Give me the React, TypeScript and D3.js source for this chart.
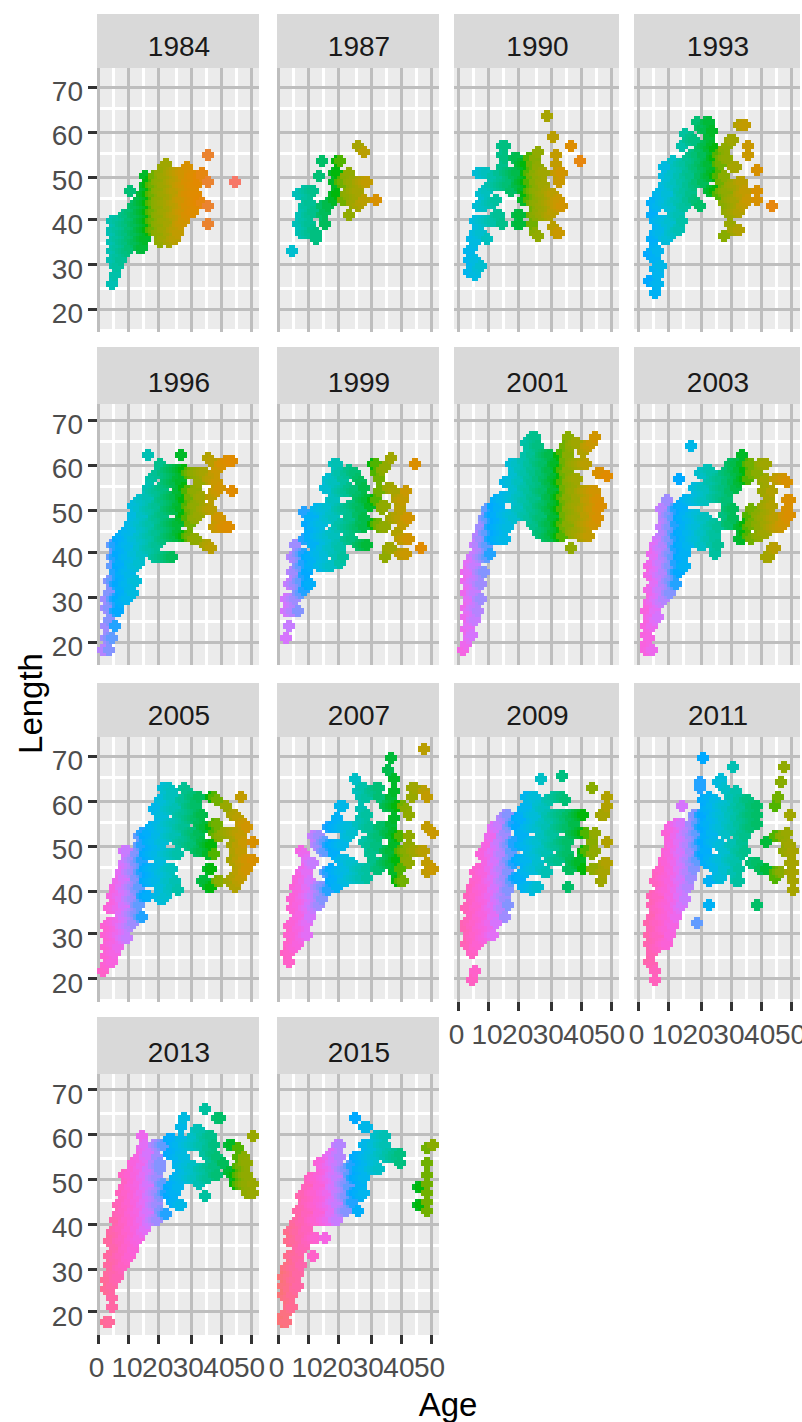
import React from "react";
import * as d3 from "d3";

// Each entry: [age, [lengths observed at that age]]
type Col = [number, number[]];
const p1984: Col[] = [[4,[26,31,33,35,37,38,40]],[5,[28,30,32,34,36,38,40]],[6,[30,32,34,36,38,40]],[7,[31,33,35,37,39]],[8,[33,35,37,39,41]],[9,[33,35,37,39,41]],[10,[34,36,38,40,42,47]],[11,[35,37,39,41,43]],[12,[35,37,39,41,43]],[13,[34,36,38,40,42,44,45]],[14,[34,36,38,40,42,44,46]],[15,[36,38,40,42,44,46,48,50]],[16,[38,40,42,44,46,48,49]],[17,[38,40,42,44,46,48]],[18,[38,40,42,44,46,48,50]],[19,[37,39,41,43,45,47,49]],[20,[35,37,39,41,43,45,47,49,51]],[21,[36,38,40,42,44,46,48,50,52]],[22,[36,38,40,42,44,46,48,50,53]],[23,[35,37,39,41,43,45,47,49,51]],[24,[36,38,41,44,47,49,51]],[25,[36,38,41,44,47,49,51]],[26,[37,39,42,45,48,51]],[27,[39,42,45,48,51]],[28,[40,42,44,46,48,50,51]],[29,[41,43,46,49,52]],[30,[42,44,46,48,50]],[31,[42,44,46,48,50]],[32,[44,46,48]],[33,[44,45,49,50]],[34,[44,50,51]],[36,[39,43,49,55]],[45,[49]]];
const p1987: Col[] = [[4,[33]],[6,[39,46]],[7,[37,39,41,46]],[8,[37,40,43,47]],[9,[37,39,41,43,45,47]],[10,[37,39,41,44,47]],[11,[38,42,47]],[12,[36,37]],[13,[50]],[14,[41,43,53.5]],[15,[39,42]],[16,[43,44]],[18,[45,46,49,51]],[19,[46,51,53.5]],[20,[49,53.5]],[21,[45,49]],[22,[46,50]],[23,[41,46,49,51]],[24,[44,47,49]],[25,[44,47]],[26,[43,47,49,57]],[27,[44,49]],[28,[45,49,55.5]],[29,[49]],[32,[45]]];
const p1990: Col[] = [[3,[28.5,31,33]],[4,[29,32,34,36]],[5,[28,31,35,37,40]],[6,[29,37,40,43,50.5]],[7,[30,37,40,43,46,51]],[8,[40,43,47,51]],[9,[36,40,44,47,51]],[10,[40,44,48]],[11,[40,44,48,50]],[12,[41,45,48]],[13,[41,48,51]],[14,[39,48,52,54.5,56.5]],[15,[48,51,54,56.8]],[16,[48,51]],[17,[47,50.8]],[18,[50,51,54]],[19,[39,41,48,51,54]],[20,[39,41,49,53]],[21,[45,47,49,53]],[22,[46,49,51,53]],[23,[45,47,49,51,54]],[24,[39,41,44,47,50,53]],[25,[37,41,44,47,49,51,54]],[26,[36.5,42,44,47,50,52,55.5]],[27,[41,43,46,49,51]],[28,[42,44,46,48,51]],[29,[41,44,47,63.5]],[30,[41,44,46]],[31,[38.6,42,44,46,59]],[32,[37,43,45,51,53,55]],[33,[37,43,45,49,51]],[34,[43,51]],[37,[57]],[40,[53.5]]];
const p1993: Col[] = [[3,[26.5,32.5]],[4,[33,36,41,44]],[5,[24,26,29,31,34,37,40,43,45]],[6,[26,28,30,33,37,40,43,46]],[7,[30,37,40,44,47]],[8,[36,40,44,48,50,52]],[9,[36,39,43,46,49]],[10,[37,40,44,48,50]],[11,[37,41,44,48,51,53.6]],[12,[38,41,45,49,52]],[13,[38,41,44,47,50,53]],[14,[40,43,46,49,53,57]],[15,[43,47,50,53,59.4]],[16,[45,48,51,54,58]],[17,[46,50,53,55,58,59]],[18,[45,48,52,55,58]],[19,[44,49,52,55,62]],[20,[43,50,53,56,61]],[21,[49,52,55,57,61]],[22,[50,53,57,60,62]],[23,[47,50,53,56,59,62]],[24,[47,51,54,57,60]],[25,[47,50,54,56]],[26,[46,50,53,55]],[27,[47,49,53,54]],[28,[36.5,44,47,50,54,56]],[29,[42,45,47,54,57]],[30,[39,42,45,48,58]],[31,[38,42,45,48,52,58]],[32,[38,42,45,48,52]],[33,[38,42,46,49,61.5]],[34,[43,46,49,61.5]],[35,[44,47,61.5]],[36,[45,55,57]],[38,[45,47,51.4]],[43,[43.3]]];
const p1996: Col[] = [[1,[18.3]],[2,[21,24,28,30]],[3,[18,21,25,28,31,34]],[4,[21,30,34,37,39,42]],[5,[24,27,30,33,36,39,42]],[6,[27,30,33,37,40,43]],[7,[29,32,35,38,41,44]],[8,[30,33,36,39,42,45]],[9,[30,33,36,39,42,45]],[10,[32,35,38,41,44,47]],[11,[31,34,37,40,43,46,49,51]],[12,[34,37,40,43,47,51]],[13,[38,41,44,47,50,52]],[14,[40,43,46,49,52]],[15,[41,44,47,50,53]],[16,[41,44,47,50,53,55,62]],[17,[41,44,47,50,54,57]],[18,[39,42,45,48,51,54,57.5]],[19,[39,42,45,48,51,54,58]],[20,[39,43,46,49,52,55,60]],[21,[39,43,46,49,52,55,58]],[22,[39,44,47,50,53,56,59]],[23,[39,44,47,50,53,56,59]],[24,[39,44,47,50,53,56,59]],[25,[44,47,50,53,56,59]],[26,[45,47,51,54,57,59]],[27,[44,48,50,53,56,59,62]],[28,[44,49,52,55,59]],[29,[44,48,51,54,58]],[30,[44,47,50,53,58]],[31,[43,48,51,54,58]],[32,[43,48,51,54,58]],[33,[49,53,56,58]],[34,[50,53,58]],[35,[42,50,58]],[36,[42,50,57,61.7]],[37,[41,50,53,57,61]],[38,[46,54,56,58]],[39,[46,48,54,56,59]],[40,[46,48,55,60]],[41,[46,60]],[42,[46,61]],[43,[46,61]],[44,[54,61]]];
const p1999: Col[] = [[2,[21,27,30]],[3,[24,27,30,33]],[4,[27,30,33,36,39]],[5,[30,33,36,39,42]],[6,[27,31,34,37,40]],[7,[31,34,37,40]],[8,[32,35,38,40,43,49.5]],[9,[33,36,39,47]],[10,[33,37,39,43,45,48]],[11,[38,42,46,48]],[12,[40,44,47,50]],[13,[37,40,44,47,50]],[14,[38,41,44,47,50]],[15,[37,40,44,48,50,55]],[16,[37,41,44,48,51,55,57]],[17,[37,41,45,49,52,56]],[18,[40,44,48,52,56,60]],[19,[39,42,46,50,54,58,60]],[20,[38,41,47,50,54,58]],[21,[39,46,50,54,57]],[22,[43,46,50,54,58]],[23,[43,46,48,51,55,59]],[24,[43,46,51,54,58]],[25,[46,51,54,58]],[26,[42,46,49,51,53,57]],[27,[42,47,50,52,56]],[28,[42,46,48,52,55]],[29,[42,52]],[30,[51]],[31,[47,52,60]],[32,[47,52,58,60]],[33,[46,47,54,57]],[34,[46,50,51,59]],[35,[39.3,46,51,59.6]],[36,[41,55]],[37,[41,48,55,61.5]],[38,[48,54]],[39,[45,48,49,52]],[40,[40,43,48,50,52]],[41,[40,43,47,52]],[42,[40,43,48,54]],[43,[43,48]],[45,[60]],[47,[41]]];
const p2001: Col[] = [[1,[18]],[2,[20,23,26,28,31,34,36]],[3,[21,24,27,30,33,36,38]],[4,[22,25,28,31,34,37,39]],[5,[25,28,31,34,37,40,42]],[6,[27,30,33,36,39,42,44]],[7,[30,33,36,39,43,46]],[8,[36,39,42,45,48]],[9,[39,42,45,48,50]],[10,[40,43,46,49]],[11,[43,46,49,51]],[12,[43,46,49,52]],[13,[43,46,50,52]],[14,[43,46,49,52,53]],[15,[43,46,49,53,56]],[16,[46,49,53,56]],[17,[49,53,56,60]],[18,[48,52,55,58,60]],[19,[50,53,56,60]],[20,[50,53,56,59]],[21,[49,52,55,58,61]],[22,[49,52,55,58,62,65]],[23,[48,51,54,57,60,64]],[24,[47,50,53,56,59,62,66]],[25,[46,49,52,55,58,61,64,66]],[26,[45,48,51,54,57,60,64]],[27,[45,48,51,54,58,60,62]],[28,[44,47,51,54,57,60,62]],[29,[44,47,50,53,56,59,62]],[30,[44,47,50,53,56,59,62]],[31,[45,48,51,54,57,60]],[32,[44,47,50,53,56,60]],[33,[44,47,50,53,56,59,62]],[34,[44,47,50,53,56,59,63]],[35,[46,49,52,55,58,61,64]],[36,[47,50,53,56,59,62,66]],[37,[41,45,48,51,54,57,60,64]],[38,[45,48,51,54,57,60,65]],[39,[45,48,51,53,57,60,65]],[40,[44,47,50,54,60]],[41,[44,47,50,54,60,63]],[42,[44,47,49,52,54,60,64]],[43,[44,47,50,52,54,64]],[44,[47,50,54,65]],[45,[47,49,52,54,66]],[46,[48,50,52,58]],[47,[51,58]],[49,[57.5]]];
const p2003: Col[] = [[2,[18,20,22,24,27]],[3,[18,21,23,26,29,32,35,37]],[4,[18,24,26,29,32,35,38,40]],[5,[25,27,30,33,36,39,42]],[6,[26,29,32,35,38,41,43]],[7,[29,32,35,38,41,44,46,50]],[8,[30,33,36,39,42,45,48,50]],[9,[31,34,37,40,43,46,49,52]],[10,[31,34,37,40,43,46,49]],[11,[33,36,39,42,45,48,50]],[12,[33,36,38,41,44,47,50]],[13,[36,39,42,45,48,51,57]],[14,[37,39,42,45,48,51]],[15,[37,40,43,46,49,52]],[16,[42,45,48,52]],[17,[43,46,49,52,64]],[18,[43,46,49,52,55]],[19,[43,46,49,52,55]],[20,[42,45,48,52,55,58]],[21,[42,45,48,52,55,58]],[22,[43,46,48,52,55,59]],[23,[43,46,56,59]],[24,[42,45,47,53,56,58]],[25,[40,43,45,47,53,55,57]],[26,[42,46,53,55,57]],[27,[53,55,57]],[28,[49,52,55,58]],[29,[47,50,52,56,58]],[30,[47,50,54,58,60]],[31,[48,50,56,59,60]],[32,[55,58,60]],[33,[43,46,56,59]],[34,[43,46,57,60,62]],[35,[45,47,57,59]],[36,[44,46,49,57,60]],[37,[43,47,50,58,60]],[38,[44,47,49,58]],[39,[44,46,48,60]],[40,[45,48,51,54,56,60]],[41,[39,45,47,49,51,54,57,60]],[42,[39,46,48,51,53]],[43,[41,46,48,51,54]],[44,[41,46,48,57]],[45,[46,57]],[46,[46,47,57]],[47,[47,49,57]],[48,[48,50,52,56]],[49,[49,52]]];
const p2005: Col[] = [[1,[22]],[2,[23,25,27,30,32]],[3,[24,26,28,30,33,36]],[4,[24,26,28,30,33,36,39]],[5,[26,28,30,33,36,39,41]],[6,[27,30,33,36,39,42]],[7,[29,32,35,38,41,44]],[8,[29,32,34,37,40,43,46,49]],[9,[29,32,35,38,41,44,47,49]],[10,[32,35,38,41,44,47]],[11,[33,35,38,41,44,47]],[12,[35,37,40,43,46,48]],[13,[34,37,41,44,47,50,52]],[14,[34,39,44,47,50,53]],[15,[39,42,45,48,52]],[16,[39,42,45,48,51,53]],[17,[42,45,48,51,54]],[18,[42,45,48,51,54,58]],[19,[39,42,45,48,52,55,58]],[20,[38,41,44,47,51,54,57,60]],[21,[38,41,44,48,51,54,57,60,63]],[22,[39,42,45,48,52,55,58,62,63]],[23,[40,42,45,48,52,55,58,61,63]],[24,[41,45,48,52,55,58,61,62]],[25,[42,48,52,55,58]],[26,[40,48,51,54,57]],[27,[51,54,57,60]],[28,[51,54,57,60,63]],[29,[50,53,56,59,62]],[30,[50,53,56,59,61]],[31,[50,53,56,59,61]],[32,[49,52,56,59,60]],[33,[49,53,55,57,61]],[34,[42,49,51,54,57]],[35,[42,50,54]],[36,[41,45,48,50]],[37,[41,45,50,54,61]],[38,[48,53,55,61]],[39,[42,52,55,60]],[40,[42,52]],[41,[53]],[42,[53,59]],[43,[42,53]],[44,[43,47,50,53,57]],[45,[41,43,46,49,53,57]],[46,[42,44,47,50,53,56]],[47,[43,46,49,52,55,61]],[48,[44,47,51,55]],[49,[45,47,54]],[50,[47,50.5]]];
const p2007: Col[] = [[2,[26]],[3,[24,26,28,30,32]],[4,[27,30,33,36,38]],[5,[27,30,33,36,39,41]],[6,[28,31,34,37,40,43]],[7,[29,32,35,38,41,44,49]],[8,[30,33,36,39,42,45,48]],[9,[30,33,36,39,41,44,47]],[10,[34,37,39,42,46]],[11,[36,39,46,52]],[12,[37,41,50,52]],[13,[37,39,41,50,52]],[14,[38,41,49,51]],[15,[40,44,49,51]],[16,[40,44,50,54]],[17,[42,45,50,54]],[18,[42,44,48,50,54]],[19,[41,44,50,54,56]],[20,[44,47,50,54,59]],[21,[42,44,47,50,54,59]],[22,[42,45,47,52,54]],[23,[43,46,52,54]],[24,[43,46,53]],[25,[43,45,65]],[26,[43,45,55,62]],[27,[43,45,56,58,61,63]],[28,[44,51,54,57,61,63]],[29,[43,45,50,54,57,61]],[30,[48,50,54,62]],[31,[47,49,52,62]],[32,[45,50,52,63]],[33,[45,52,54,61,63]],[34,[46,54]],[35,[46,49,53,59]],[36,[46,49,53,59,67]],[37,[46,49,52,55,59,61,69.5]],[38,[44,47,50,53,56,59,62,65]],[39,[42,47,52,59]],[40,[42,45,49,52]],[41,[42,49,59]],[42,[47,49,58]],[43,[46,50,52,57]],[44,[49,61,63]],[45,[49,63]],[47,[49]],[48,[49,62,71.5]],[49,[44,46,54,61]],[50,[45,53]]];
const p2009: Col[] = [[2,[28,31,33,36]],[3,[27,30,33,36,39]],[4,[20,26,29,32,35,38,41]],[5,[22,27,30,33,36,39,42,44]],[6,[28,31,34,37,40,43,45]],[7,[29,32,35,38,41,44,48]],[8,[29,32,35,38,41,44,48]],[9,[30,33,36,39,42,46,50]],[10,[30,33,36,39,42,45,48,52]],[11,[30,34,37,40,43,46,49,54]],[12,[33,38,41,44,47,50,54]],[13,[36,39,42,45,48,51,55]],[14,[36,39,42,45,48,52,56]],[15,[34,38,40,43,46,50,53,57]],[16,[37,40,44,47,50,54,57]],[17,[42,46,49,51,55]],[18,[43,46,50,51,55]],[19,[43,47,54,56]],[20,[43,47,50,53,56]],[21,[41,44,47,50,53,58]],[22,[41,44,47,50,54,58,61]],[23,[41,45,48,51,54,57,60]],[24,[40,45,48,51,54,57,61]],[25,[41,45,48,51,54,57,61]],[26,[41,46,49,51,54,59]],[27,[45,49,52,55,58,65]],[28,[44,49,52,55,58]],[29,[44,48,51,54,57,60]],[30,[47,50,53,56,60]],[31,[47,50,53,57,61]],[32,[47,50,54,57,61]],[33,[47,51,54,57,61]],[34,[48,51,54,57,61,65.5]],[35,[48,51,54,56,60]],[36,[41,45,48,51,54,57]],[37,[45,47,53,56]],[38,[46,53,55,57]],[39,[46,53,57]],[40,[46,47,53,57]],[41,[45,49,53,57]],[42,[49,53]],[44,[45,48,51,63]],[45,[45,49,53]],[47,[42,44,57]],[48,[44,46,57]],[49,[46,50.7,59,61]]];
const p2011: Col[] = [[3,[24,28,30,33]],[4,[23,26,28,31,34,37,39]],[5,[20,22,27,30,33,36,39,42]],[6,[27,30,33,36,39,42,44]],[7,[28,31,34,37,40,43,45]],[8,[28,31,34,37,40,43,47]],[9,[28,31,34,37,40,43,46,49,53]],[10,[30,33,36,39,42,45,48,51,54]],[11,[32,35,38,41,44,47,50,54]],[12,[34,37,40,43,46,49,52,55]],[13,[36,39,42,45,48,51,55]],[14,[37,40,43,46,49,52,55,59]],[15,[38,41,44,47,50,53]],[16,[41,44,47,50,53]],[17,[43,46,49,52,55]],[18,[45,47,50,53,57]],[19,[33,47,50,53,55]],[20,[48,51,54,57,63,64]],[21,[48,51,54,57,60,69.5]],[22,[46,49,52,55,58,60]],[23,[36.5,42,47,51,55,58,61]],[24,[46,51,53,56,59]],[25,[45,47,51,54,57,60]],[26,[43,47,50,54,57,59,64]],[27,[43,47,50,54,57,59,65]],[28,[45,49,53,56,59,63]],[29,[47,53,55,58,62]],[30,[47,50,54,57,61]],[31,[44,47,50,54,58,61,67.5]],[32,[42,46,49,53,56,59,62]],[33,[42,45,49,52,55,58,60]],[34,[48,51,53,56,59]],[35,[49,52,54,57,60]],[36,[54,57,60]],[37,[46,54,57,59]],[38,[37,46,55,57,59]],[39,[45]],[41,[45,51]],[44,[42.5,44,52,59]],[45,[44,61]],[46,[44,52,64]],[47,[49,52,67.5]],[48,[49,51,53]],[49,[44,46,48,50,57]],[50,[40,42,44,46,49]]];
const p2013: Col[] = [[2,[18,25,27]],[3,[18,25,27,29,31,33,36]],[4,[21,23,26,29,31,33,36,38]],[5,[27,29,32,35,38,41]],[6,[28,30,33,36,39,42,44]],[7,[30,33,36,39,42,45,47]],[8,[31,34,37,40,43,46,48,51]],[9,[32,35,38,41,44,47,51]],[10,[33,36,39,42,45,48,51]],[11,[34,37,40,43,46,49,52,54]],[12,[36,39,42,45,48,51,54]],[13,[37,40,43,46,49,52,55]],[14,[38,41,44,47,50,53,57,60]],[15,[39,42,45,48,51,55,58]],[16,[40,43,46,49,52,56]],[17,[41,44,47,50]],[18,[41,44,47,50,53,54,58]],[19,[41,44,47,50,53,55,58]],[20,[43,46,49,52,54,58]],[21,[42,47,49,58]],[22,[42,47]],[23,[46,48,56,59]],[24,[45,47,49,56,59]],[25,[45,47,50,55,58]],[26,[44,48,50,53,55,58]],[27,[44,50,53,56,59,62]],[28,[51,53,55,58,64]],[29,[50,53,58]],[30,[50,52,58]],[31,[50,53,58,60]],[32,[50,58,61]],[33,[49,52,58,61]],[34,[50,52,58,60]],[35,[46,50,52,56,59,65.5]],[36,[50,53,57,60]],[37,[52,56,60]],[38,[51,53,56,58]],[39,[51,55,64]],[40,[64]],[41,[54]],[43,[51.5,57.5]],[44,[51,57.5]],[45,[49,51]],[46,[49,51,53,55,57]],[47,[49,51,53]],[48,[49,51,54,55]],[49,[47,49,51,54]],[50,[47,49,60]]];
const p2015: Col[] = [[1,[17.6,19,24,26,28]],[2,[18,20,23,26,28,30]],[3,[21,23,25,28,30,33,36,38]],[4,[21,24,27,30,33,36,39]],[5,[25,27,30,33,36,38,40]],[6,[26,29,32,35,38,41,43]],[7,[31,34,37,40,43,46]],[8,[35,38,41,44,47]],[9,[36,39,42,45,48]],[10,[37,41,44,47,50]],[11,[33,37,41,44,47,50]],[12,[37,41,44,47,50]],[13,[42,45,48,51,54]],[14,[41,44,47,50,53,54]],[15,[37,41,44,47,50,53]],[16,[41,44,47,50,53,55]],[17,[42,45,48,51,54,56]],[18,[41,45,48,51,54,55]],[19,[41,44,47,50,53,56,58]],[20,[43,46,49,52,55,58]],[21,[43,46,49,52]],[22,[43,46,49,52]],[23,[45,48,51,53]],[24,[45,47,50,53]],[25,[47,50,55,64]],[26,[43,47,50,52,55]],[27,[46,48,50,52,55]],[28,[47,50,52,55,58,62]],[29,[55,58,62]],[30,[52,55,56]],[31,[52,55,58]],[32,[52,55,60]],[33,[52,56,58,60]],[34,[56,58,60]],[35,[55,58,60]],[36,[56]],[37,[55]],[38,[55,56]],[39,[55]],[40,[54,56]],[46,[44,48]],[47,[44,48]],[49,[43,45,47,49,51,54,57]],[50,[57.6]]];

const years = [1984,1987,1990,1993,1996,1999,2001,2003,2005,2007,2009,2011,2013,2015];
const series = [p1984,p1987,p1990,p1993,p1996,p1999,p2001,p2003,p2005,p2007,p2009,p2011,p2013,p2015];
const xTicks = [0,10,20,30,40,50];
const xMinor = [5,15,25,35,45];
const yTicks = [20,30,40,50,60,70];
const yMinor = [25,35,45,55,65];
const cohortKnots = [1938,1949,1955,1961,1965,1968,1970,1980,1990,2000,2015];
const hueKnots = [15,35,52,85,100,128,135,185,240,315,375];

const colX = [[98.5,251.5,97,259],[278.5,431.5,277,439],[458.5,611.5,454,619],[638.5,792.5,634,800]];
const rowY = [
  {y70:87.5,y20:309.5,stripTop:14,top:68,bottom:329,lineBottom:332,strip:55.5},
  {y70:420.5,y20:642.5,stripTop:347,top:404,bottom:665,lineBottom:665,strip:391.5},
  {y70:756.5,y20:979.5,stripTop:683,top:737,bottom:999,lineBottom:1002,strip:725},
  {y70:1090.5,y20:1312.5,stripTop:1017,top:1074,bottom:1335,lineBottom:1335,strip:1061.5},
];

const snapX = (v: number) => Math.round((v - 1) / 3) * 3 + 1;
const snapY = (v: number) => Math.round((v - 2) / 3) * 3 + 2;

// polar LUV -> sRGB, as R's hcl()
function hcl(h: number, c = 100, l = 65): string {
  const r = (h * Math.PI) / 180;
  const U = c * Math.cos(r), V = c * Math.sin(r);
  const Y = 100 * Math.pow((l + 16) / 116, 3);
  const u = U / (13 * l) + 0.1978398, v = V / (13 * l) + 0.4683363;
  const X = (9 * Y * u) / (4 * v);
  const Z = -X / 3 - 5 * Y + (3 * Y) / v;
  const g = (t: number) => {
    const q = t / 100;
    const s = q <= 0.0031308 ? 12.92 * q : 1.055 * Math.pow(q, 1 / 2.4) - 0.055;
    return Math.round(255 * Math.max(0, Math.min(1, s)));
  };
  return d3.rgb(
    g(3.240479 * X - 1.53715 * Y - 0.498535 * Z),
    g(-0.969256 * X + 1.875992 * Y + 0.041556 * Z),
    g(0.055648 * X - 0.204043 * Y + 1.057311 * Z)
  ).formatHex();
}
const hueScale = d3.scaleLinear().domain(cohortKnots).range(hueKnots);

const plus = (x: number, y: number) =>
  `M${x + 3},${y}h6v3h3v6h-3v3h-6v-3h-3v-6h3z`;

const FONT = "'Liberation Sans', Arial, sans-serif";

export default function App() {
  return (
    <svg width={802} height={1422} style={{ position: "absolute", left: 0, top: 0, display: "block" }} fontFamily={FONT}>
      <rect width={802} height={1422} fill="#fff" />
      {years.map((year, i) => {
        const c = i % 4;
        const r = Math.floor(i / 4);
        const col = colX[c];
        const row = rowY[r];
        const x = d3.scaleLinear().domain([0, 50]).range([col[0], col[1]]);
        const y = d3.scaleLinear().domain([20, 70]).range([row.y20, row.y70]);
        const left = col[2], right = col[3];
        const bottomAxis = (r === 3 && c < 2) || (r === 2 && c >= 2);
        const pts = series[i].flatMap(([age, ls]) => ls.map((l) => ({ age, l })));
        return (
          <g key={year}>
            <rect x={left} y={row.stripTop} width={right - left} height={row.top - row.stripTop} fill="#D9D9D9" />
            <text x={(left + right) / 2 + 1} y={row.strip} textAnchor="middle" fontSize={28} fill="#1A1A1A">{year}</text>
            <rect x={left} y={row.top} width={right - left} height={row.bottom - row.top} fill="#EBEBEB" />
            <g shapeRendering="crispEdges">
              {xMinor.map((v) => (
                <rect key={v} x={snapX(x(v) - 1.5)} y={row.top} width={3} height={row.bottom - row.top} fill="#fff" />
              ))}
              {yMinor.map((v) => (
                <rect key={v} x={left} y={snapY(y(v) - 1.5)} width={right - left} height={3} fill="#fff" />
              ))}
              {xTicks.map((v) => (
                <rect key={v} x={snapX(x(v) - 1.5)} y={row.top} width={3} height={row.lineBottom - row.top} fill="#BEBEBE" />
              ))}
              {yTicks.map((v) => (
                <rect key={v} x={left} y={snapY(y(v) - 1.5)} width={right - left} height={3} fill="#BEBEBE" />
              ))}
              <clipPath id={`clip${year}`}>
                <rect x={left} y={row.top} width={right - left} height={row.bottom - row.top} />
              </clipPath>
              <g clipPath={`url(#clip${year})`}>
                {pts.map((p, k) => (
                  <path
                    key={k}
                    d={plus(snapX(x(p.age) - 6), snapY(y(p.l) - 6))}
                    fill={hcl(hueScale(year - p.age))}
                  />
                ))}
              </g>
              {c === 0 &&
                yTicks.map((v) => (
                  <rect key={v} x={88} y={snapY(y(v) - 1.5)} width={9} height={3} fill="#333333" />
                ))}
              {bottomAxis &&
                xTicks.map((v) => (
                  <rect key={v} x={snapX(x(v) - 1.5)} y={row.lineBottom} width={3} height={9} fill="#333333" />
                ))}
            </g>
            {c === 0 &&
              yTicks.map((v) => (
                <text key={v} x={83} y={y(v) + 13.5} textAnchor="end" fontSize={28} fill="#4D4D4D">{v}</text>
              ))}
            {bottomAxis &&
              xTicks.map((v) => (
                <text key={v} x={x(v) - 2} y={row.lineBottom + 42} textAnchor="middle" fontSize={28} fill="#4D4D4D">{v}</text>
              ))}
          </g>
        );
      })}
      <text transform="translate(42,703.5) rotate(-90)" textAnchor="middle" fontSize={33} fill="#000">Length</text>
      <text x={448} y={1416} textAnchor="middle" fontSize={33} fill="#000">Age</text>
    </svg>
  );
}
